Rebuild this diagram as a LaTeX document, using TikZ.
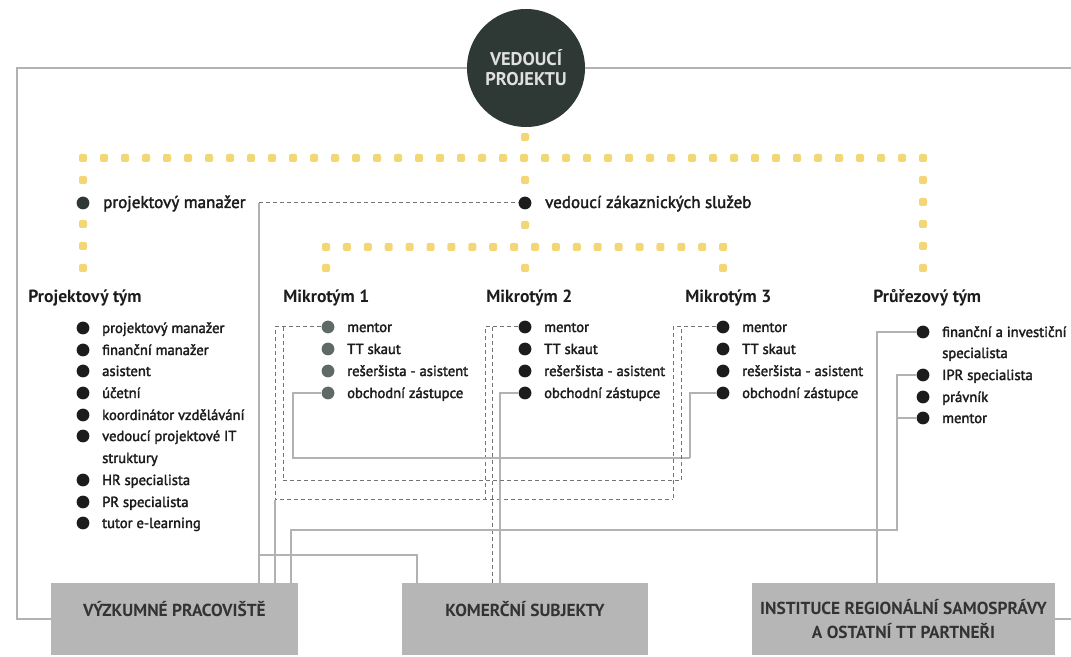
\documentclass[tikz,border=0pt]{standalone}
\usepackage{fontspec}
\setmainfont{PT Sans}
\newfontfamily\itemfamily{PT Sans}[FakeBold=2.2]
\usetikzlibrary{positioning}
\definecolor{dotyellow}{RGB}{243,215,118}
\definecolor{leadgreen}{RGB}{46,56,53}
\definecolor{boxgray}{RGB}{182,182,182}
\definecolor{textdark}{RGB}{28,28,28}
\definecolor{mgray}{RGB}{95,106,102}
\tikzset{
  ydot/.style={fill=dotyellow, rounded corners=1pt, minimum size=4pt, inner sep=0pt},
  bul/.style={circle, fill=textdark, minimum size=6.4pt, inner sep=0pt},
  gbul/.style={bul, fill=mgray},
  item/.style={font=\itemfamily\fontsize{7.3}{9}\selectfont, text=textdark, inner sep=0pt,
    text height=1ex, text depth=0pt, anchor=west},
  toplabel/.style={item, font=\itemfamily\fontsize{8.5}{10}\selectfont},
  head/.style={font=\bfseries\fontsize{8.8}{10}\selectfont, text=textdark, inner sep=0pt, anchor=west},
  leader/.style={circle, fill=leadgreen, minimum size=59pt, inner sep=0pt, align=center,
    text=white!88!black, font=\bfseries\fontsize{9.2}{10}\selectfont},
  unit/.style={fill=boxgray, minimum height=36pt, align=center, text=black!80,
    font=\bfseries\fontsize{8.7}{12}\selectfont},
  link/.style={draw=black!30, line width=0.6pt},
  dlink/.style={draw=black!55, line width=0.5pt, dash pattern=on 2pt off 1.5pt}
}
\begin{document}
\begin{tikzpicture}[x=0.5pt, y=-0.5pt]
  \useasboundingbox (0,0) rectangle (1071,657);
  % yellow dotted lines
  \foreach \i in {0,...,40}
    \node[ydot] at ({83+21*\i},158) {};
  \foreach \i in {0,...,19}
    \node[ydot] at ({326+20.9*\i},247) {};
  \foreach \y in {180,224,246,268}
    \node[ydot] at (83,\y) {};
  \foreach \y in {137,180,225,268}
    \node[ydot] at (525,\y) {};
  \foreach \y in {180,202,224,246,268}
    \node[ydot] at (923,\y) {};
  \node[ydot] at (326,268) {};
  \node[ydot] at (723,268) {};

  \node[leader] (lead) at (526,68) {VEDOUCÍ\\PROJEKTU};

  \node[bul, fill=leadgreen] (pmdot) at (83,203) {};
  \node[toplabel, right=6.5pt of pmdot] (pm) {projektový manažer};
  \node[bul] (vzsdot) at (525,203) {};
  \node[toplabel, right=6.5pt of vzsdot] (vzs) {vedoucí zákaznických služeb};

  % teams
  \node[head] (pthead) at (28,298) {Projektový tým};
  \node[head] (mahead) at (283,298) {Mikrotým 1};
  \node[head] (mbhead) at (486,298) {Mikrotým 2};
  \node[head] (mchead) at (685,298) {Mikrotým 3};
  \node[head] (prhead) at (873,298) {Průřezový tým};

  \foreach \y/\txt [count=\k] in {328/projektový manažer, 350/finanční manažer,
      371/asistent, 393/účetní, 415/koordinátor vzdělávání, 436/vedoucí projektové IT,
      480/HR specialista, 502/PR specialista, 523/tutor e-learning}
  {
    \node[bul] (pt\k) at (83,\y) {};
    \node[item, right=6pt of pt\k] (ptt\k) {\txt};
  }
  \coordinate (ptrow) at (0,458);
  \node[item] (ptt6b) at (ptt6.west |- ptrow) {struktury};

  \foreach \y/\txt [count=\k] in {327/mentor, 349/TT skaut, 371/rešeršista - asistent,
      393/obchodní zástupce}
  {
    \node[gbul] (ma\k) at (328,\y) {};
    \node[item, right=6pt of ma\k] (mat\k) {\txt};
    \node[bul] (mb\k) at (525,\y) {};
    \node[item, right=6pt of mb\k] (mbt\k) {\txt};
    \node[bul] (mc\k) at (723,\y) {};
    \node[item, right=6pt of mc\k] (mct\k) {\txt};
  }

  \foreach \y/\txt [count=\k] in {332/finanční a investiční, 375/IPR specialista,
      397/právník, 418/mentor}
  {
    \node[bul] (pr\k) at (923,\y) {};
    \node[item, right=6pt of pr\k] (prt\k) {\txt};
  }
  \coordinate (prrow) at (0,353);
  \node[item] (prt1b) at (prt1.west |- prrow) {specialista};

  % partners
  \node[unit, minimum width=123.5pt, text height=6pt, text depth=9pt] (vyz)
    at (174.5,619) {VÝZKUMNÉ PRACOVIŠTĚ};
  \node[unit, minimum width=123pt, text height=6pt, text depth=9pt] (kom)
    at (525,619) {KOMERČNÍ SUBJEKTY};
  \node[unit, minimum width=151.5pt] (inst)
    at (903.5,619) {INSTITUCE REGIONÁLNÍ SAMOSPRÁVY\\A OSTATNÍ TT PARTNEŘI};

  % connectors
  \coordinate (lbend) at (17,619);
  \coordinate (rtop) at (1071,68);
  \coordinate (rbot) at (1071,619);
  \draw[link] (lead.west) -| (lbend) -- (vyz.west);
  \draw[link] (lead.east) -- (rtop);
  \draw[link] (inst.east) -- (rbot);

  \coordinate (pmbend) at (259,203);
  \draw[dlink] (pmbend) -- (vzsdot.west);
  \draw[link] (pmbend) -- (pmbend |- vyz.north);

  \coordinate (mentL) at (275,500);
  \coordinate (mentM) at (485,500);
  \coordinate (mentR) at (673,500);
  \draw[dlink] (ma1.west) -| (mentL) -- (mentR);
  \draw[dlink] (mb1.west) -| (mentM);
  \draw[dlink] (mc1.west) -| (mentR);
  \draw[link] (mentL) -- (mentL |- vyz.north);

  \coordinate (obchL) at (293,458);
  \coordinate (obchM) at (500,458);
  \coordinate (obchR) at (690,458);
  \draw[link] (ma4.west) -| (obchL) -- (obchR);
  \draw[link] (mb4.west) -| (obchM) -- (obchM |- kom.north);
  \draw[link] (mc4.west) -| (obchR);

  \coordinate (dashL) at (283,481);
  \coordinate (dashM) at (492,481);
  \coordinate (dashR) at (681,481);
  \draw[dlink] (dashL |- ma1) -- (dashL) -- (dashR) -- (dashR |- mc1);
  \draw[dlink] (dashM |- mb1) -- (dashM |- kom.north);

  \coordinate (commL) at (291,530);
  \coordinate (commR) at (897,530);
  \draw[link] (commL |- vyz.north) -- (commL) -- (commR) |- (pr2.west);
  \draw[link] (commR |- pr4) -- (pr4.west);

  \coordinate (fin) at (877,332);
  \draw[link] (pr1.west) -| (fin |- inst.north);

  \coordinate (kbr) at (417,555);
  \draw[link] (pmbend |- kbr) -- (kbr) -- (kbr |- kom.north);
\end{tikzpicture}
\end{document}
